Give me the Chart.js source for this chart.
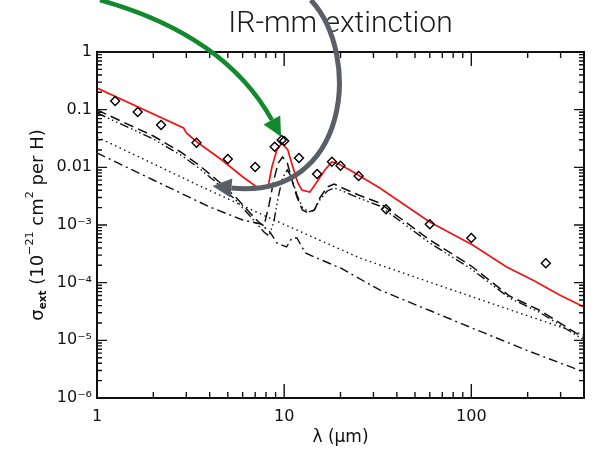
<!DOCTYPE html>
<html>
<head>
<meta charset="utf-8">
<script src="https://cdn.jsdelivr.net/npm/chart.js@4/dist/chart.umd.min.js"></script>
<style>
html,body{margin:0;padding:0;background:#fff;}
#wrap{width:592px;height:450px;position:relative;}
canvas{display:block;}
</style>
</head>
<body>
<div id="wrap"><canvas id="c" width="592" height="450" style="width:592px;height:450px"></canvas></div>
<script>
// ---------- text ----------
const chartTitle = 'IR-mm extinction';
const xAxisTitle = 'λ (μm)';

// ---------- tick labels ----------
const xTickValues = [1, 10, 100];
const xTickText = ['1', '10', '100'];
const yTickValues = [1e-6, 1e-5, 1e-4, 1e-3, 0.01, 0.1, 1];
const yTickText = ['10⁻⁶', '10⁻⁵', '10⁻⁴', '10⁻³', '0.01', '0.1', '1'];

// ---------- total model (red solid) ----------
const lambdaModel = [1, 2.90, 3.005, 3.42, 4.65, 6.02, 6.56, 7.24, 8.18, 8.60, 9.14, 9.72, 10.46, 11.13, 11.84, 12.43, 13.72, 14.58, 16.50, 17.97, 19.11, 22.43, 32.43, 59.97, 101.7, 154.5, 212.7, 296.5, 400];
const sigmaModel = [0.2377, 0.0481, 0.0394, 0.0275, 0.0134, 0.00680, 0.00557, 0.00438, 0.00438, 0.01014, 0.0200, 0.0264, 0.0200, 0.01014, 0.00535, 0.00405, 0.00374, 0.00494, 0.00899, 0.01238, 0.01189, 0.00899, 0.00438, 0.001128, 0.000450, 0.000187, 0.0001113, 0.0000611, 0.0000379];

// ---------- observations (diamonds) ----------
const lambdaObs = [1.25, 1.65, 2.2, 3.4, 5.0, 7.0, 8.9, 9.7, 10.0, 12.0, 15.0, 18.0, 20.0, 25.0, 35.0, 60.0, 100.0, 250.0];
const sigmaObs = [0.141, 0.0912, 0.0542, 0.0267, 0.0139, 0.0101, 0.0228, 0.0298, 0.0286, 0.0145, 0.00766, 0.0125, 0.0107, 0.00708, 0.00187, 0.00103, 0.000595, 0.000217];

// ---------- components ----------
const lambdaComp = [1, 2, 2.8, 3.5, 4.5, 5.5, 6.5, 7.3, 7.8, 8.3, 8.8, 9.3, 9.8, 10.4, 11, 11.7, 12.5, 13.5, 14.5, 15.5, 17, 18.5, 20.5, 25, 32.4, 60, 100, 160, 230, 400];
const sigmaDashed = [0.0987, 0.03494, 0.01845, 0.01098, 0.00557, 0.00306, 0.001681, 0.001128, 0.000961, 0.002223, 0.00603, 0.01189, 0.01511, 0.01189, 0.00603, 0.00306, 0.00182, 0.001615, 0.00182, 0.00294, 0.00456, 0.00514, 0.00438, 0.00331, 0.002408, 0.000550, 0.0001946, 0.0000587, 0.0000336, 0.00001099];
const sigmaDash3Dot = [0.0876, 0.0310, 0.01637, 0.00974, 0.00494, 0.002715, 0.001491, 0.000961, 0.000756, 0.000645, 0.001128, 0.00306, 0.00653, 0.00899, 0.00653, 0.00331, 0.002053, 0.001681, 0.00182, 0.002715, 0.00389, 0.00438, 0.00389, 0.00294, 0.002136, 0.000488, 0.0001727, 0.0000543, 0.000031, 0.00001014];

const lambdaDotted = [1, 3.548, 7.70, 25.37, 98.1, 400];
const sigmaDotted = [0.0336, 0.00475, 0.001491, 0.000268, 0.0000587, 0.00001238];

const lambdaDashDot = [1, 2, 4, 6, 7.5, 8.4, 9.15, 10.3, 11.0, 11.7, 13.0, 14.9, 20, 32.4, 60, 100, 200, 400];
const sigmaDashDot = [0.01773, 0.00603, 0.002053, 0.001221, 0.001041, 0.000756, 0.000488, 0.000416, 0.000595, 0.000595, 0.000327, 0.000268, 0.0001797, 0.0000747, 0.0000329, 0.00001657, 0.00000661, 0.000002826];

// ---------- annotation arrows (anchor points in data units: [lambda, sigma]) ----------
const greenArrowPath = [[1.0376, 7.97], [4.825, 1.972], [8.60, 0.0662]];
const grayArrowPath = [[13.89, 7.97], [25.99, 0.887], [22.43, 0.002715], [5.225, 0.00438]];

const zip = (xs, ys) => xs.map((v, i) => ({x: v, y: ys[i]}));

const TICK_FONT = '"DejaVu Sans", "Liberation Sans", sans-serif';

const frameTicks = {
  id: 'frameTicks',
  afterDatasetsDraw(chart) {
    const {ctx, chartArea: a, scales: {x, y}} = chart;
    ctx.save();
    ctx.strokeStyle = '#111';
    ctx.lineWidth = 1.4;
    ctx.beginPath();
    for (let e = 0; e <= 2; e++) {
      for (let m = 1; m <= 9; m++) {
        const v = Math.pow(10, e) * m;
        if (v > x.max) break;
        const px = x.getPixelForValue(v);
        const L = m === 1 ? 14 : 6;
        ctx.moveTo(px, a.bottom); ctx.lineTo(px, a.bottom - L);
        ctx.moveTo(px, a.top); ctx.lineTo(px, a.top + L);
      }
    }
    for (let e = -6; e <= 0; e++) {
      for (let m = 1; m <= 9; m++) {
        const v = Math.pow(10, e) * m;
        if (v > y.max * 1.0001) break;
        const py = y.getPixelForValue(v);
        const L = m === 1 ? 10 : 5;
        ctx.moveTo(a.left, py); ctx.lineTo(a.left + L, py);
        ctx.moveTo(a.right, py); ctx.lineTo(a.right - L, py);
      }
    }
    ctx.stroke();
    ctx.lineWidth = 2;
    ctx.strokeStyle = '#111';
    ctx.strokeRect(a.left, a.top, a.right - a.left, a.bottom - a.top);
    ctx.restore();
  }
};

const yTitlePlugin = {
  id: 'yTitle',
  afterDraw(chart) {
    const {ctx, chartArea: a} = chart;
    const fs = 18;
    const segs = [
      {t: 'σ', s: 1, dy: 0, w: 'normal'},
      {t: 'ext', s: 0.58, dy: 0.28, w: 'bold'},
      {t: ' (10', s: 1, dy: 0, w: 'normal'},
      {t: '−21', s: 0.62, dy: -0.42, w: 'normal'},
      {t: ' cm', s: 1, dy: 0, w: 'normal'},
      {t: '2', s: 0.62, dy: -0.42, w: 'normal'},
      {t: ' per H)', s: 1, dy: 0, w: 'normal'}
    ];
    ctx.save();
    let total = 0;
    segs.forEach(sg => {
      ctx.font = sg.w + ' ' + (fs * sg.s) + 'px ' + TICK_FONT;
      sg.width = ctx.measureText(sg.t).width;
      total += sg.width;
    });
    ctx.translate(38, (a.top + a.bottom) / 2);
    ctx.rotate(-Math.PI / 2);
    ctx.fillStyle = '#111';
    ctx.textBaseline = 'middle';
    ctx.textAlign = 'left';
    let u = -total / 2;
    segs.forEach(sg => {
      ctx.font = sg.w + ' ' + (fs * sg.s) + 'px ' + TICK_FONT;
      ctx.fillText(sg.t, u, sg.dy * fs);
      u += sg.width;
    });
    ctx.restore();
  }
};

const arrowPlugin = {
  id: 'arrows',
  afterDraw(chart) {
    const {ctx, scales: {x, y}} = chart;
    const specs = [
      {path: greenArrowPath, color: '#12892e', width: 4.5, len: 19, half: 9.5},
      {path: grayArrowPath, color: '#5a5f67', width: 5, len: 19, half: 9.5}
    ];
    specs.forEach(sp => {
      const p = sp.path.map(([l, s]) => [x.getPixelForValue(l), y.getPixelForValue(s)]);
      ctx.save();
      ctx.strokeStyle = sp.color;
      ctx.fillStyle = sp.color;
      ctx.lineWidth = sp.width;
      ctx.lineCap = 'butt';
      ctx.beginPath();
      ctx.moveTo(p[0][0], p[0][1]);
      if (p.length === 3) ctx.quadraticCurveTo(p[1][0], p[1][1], p[2][0], p[2][1]);
      else ctx.bezierCurveTo(p[1][0], p[1][1], p[2][0], p[2][1], p[3][0], p[3][1]);
      ctx.stroke();
      const end = p[p.length - 1], prev = p[p.length - 2];
      let dx = end[0] - prev[0], dy = end[1] - prev[1];
      const n = Math.hypot(dx, dy); dx /= n; dy /= n;
      const tip = [end[0] + dx * sp.len, end[1] + dy * sp.len];
      ctx.beginPath();
      ctx.moveTo(tip[0], tip[1]);
      ctx.lineTo(end[0] - dy * sp.half, end[1] + dx * sp.half);
      ctx.lineTo(end[0] + dy * sp.half, end[1] - dx * sp.half);
      ctx.closePath();
      ctx.fill();
      ctx.restore();
    });
  }
};

const lineDs = (label, xs, ys, dash, color, width, order) => ({
  label, data: zip(xs, ys), borderColor: color, borderWidth: width, borderDash: dash,
  pointRadius: 0, fill: false, tension: 0, borderCapStyle: 'butt', order
});

new Chart(document.getElementById('c'), {
  type: 'line',
  data: {
    datasets: [
      lineDs('dotted', lambdaDotted, sigmaDotted, [1.5, 3.5], '#111', 1.4, 6),
      lineDs('dash-dot', lambdaDashDot, sigmaDashDot, [9, 4, 2, 4], '#111', 1.4, 5),
      lineDs('dash-dot-dot', lambdaComp, sigmaDash3Dot, [9, 3, 1.5, 3, 1.5, 3, 1.5, 3], '#111', 1.4, 4),
      lineDs('dashed', lambdaComp, sigmaDashed, [10, 5], '#111', 1.5, 3),
      lineDs('model', lambdaModel, sigmaModel, [], 'rgb(240,20,20)', 1.7, 2),
      {
        label: 'observed', data: zip(lambdaObs, sigmaObs), showLine: false,
        pointStyle: 'rectRot', pointRadius: 4.5, pointBorderWidth: 1.4,
        pointBorderColor: '#000', pointBackgroundColor: 'rgba(0,0,0,0)', order: 1
      }
    ]
  },
  options: {
    responsive: false,
    devicePixelRatio: 1,
    animation: false,
    layout: {padding: {left: 0, right: 8, top: 0, bottom: 0}},
    plugins: {
      legend: {display: false},
      tooltip: {enabled: false},
      title: {
        display: true, text: chartTitle, fullSize: false, align: 'center', color: '#1a1a1a',
        font: {family: 'Roboto, "Liberation Sans", sans-serif', size: 30, weight: 300, lineHeight: 1.2},
        padding: {top: 6, bottom: 10}
      }
    },
    scales: {
      x: {
        type: 'logarithmic', position: 'bottom', min: 1, max: 400,
        grid: {display: false, drawTicks: false}, border: {display: false},
        afterBuildTicks: s => { s.ticks = xTickValues.map(v => ({value: v})); },
        afterFit: s => { s.height = 52; },
        ticks: {
          autoSkip: false, maxRotation: 0, padding: 9, color: '#111',
          font: {family: TICK_FONT, size: 16},
          callback: (v, i) => xTickText[i]
        },
        title: {
          display: true, text: xAxisTitle, color: '#111',
          font: {family: TICK_FONT, size: 17}, padding: {top: 0, bottom: 2.5}
        }
      },
      y: {
        type: 'logarithmic', position: 'left', min: 1e-6, max: 1,
        grid: {display: false, drawTicks: false}, border: {display: false},
        afterBuildTicks: s => { s.ticks = yTickValues.map(v => ({value: v})); },
        afterFit: s => { s.width = 97; },
        ticks: {
          autoSkip: false, padding: 5, color: '#111',
          font: {family: TICK_FONT, size: 16},
          callback: (v, i) => yTickText[i]
        }
      }
    }
  },
  plugins: [frameTicks, yTitlePlugin, arrowPlugin]
});
</script>
</body>
</html>
